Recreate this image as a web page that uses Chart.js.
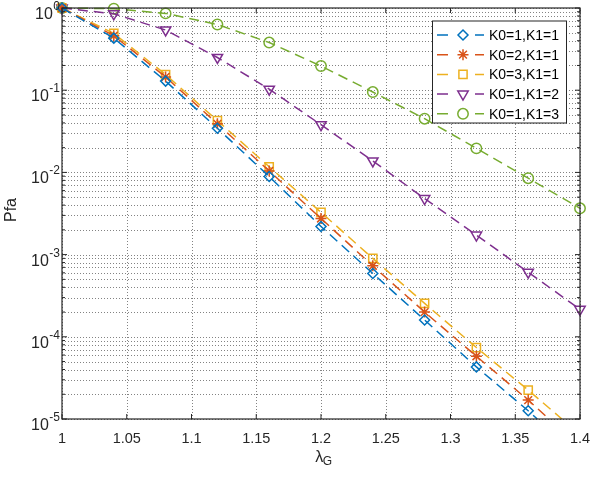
<!DOCTYPE html>
<html>
<head>
<meta charset="utf-8">
<script src="https://cdn.jsdelivr.net/npm/chart.js@4.4.1/dist/chart.umd.min.js"></script>
<style>
  html, body { margin: 0; padding: 0; background: #ffffff; }
  #wrap { width: 594px; height: 494px; position: relative; }
</style>
</head>
<body>
<div id="wrap"><canvas id="c" width="594" height="494"></canvas></div>
<script>
// ---- data ----
const xMarks = [1.00, 1.04, 1.08, 1.12, 1.16, 1.20, 1.24, 1.28, 1.32, 1.36, 1.40];
const seriesNames = ['K0=1,K1=1', 'K0=2,K1=1', 'K0=3,K1=1', 'K0=1,K1=2', 'K0=1,K1=3'];
const pfaK01K11 = [1, 0.43, 0.129, 0.0344, 0.0089, 0.0022, 5.9e-4, 1.6e-4, 4.3e-5, 1.26e-5];
const pfaK02K11 = [1, 0.46, 0.145, 0.039, 0.0104, 0.00275, 7.3e-4, 2.0e-4, 5.8e-5, 1.7e-5];
const pfaK03K11 = [1, 0.49, 0.155, 0.0426, 0.0117, 0.00327, 9.0e-4, 2.55e-4, 7.4e-5, 2.25e-5];
const pfaK01K12 = [1, 0.85, 0.54, 0.25, 0.103, 0.038, 0.0138, 0.0048, 0.00173, 6.1e-4, 2.16e-4];
const pfaK01K13 = [1, 0.98, 0.86, 0.63, 0.38, 0.197, 0.095, 0.045, 0.0196, 0.0085, 0.00366];
// where the curves leave the plot at the bottom edge (x, y)
const exitK01K11 = [1.367, 1e-5];
const exitK02K11 = [1.376, 1e-5];
const exitK03K11 = [1.386, 1e-5];
// axes
const xTickValues = [1, 1.05, 1.1, 1.15, 1.2, 1.25, 1.3, 1.35, 1.4];
const xTickLabels = ['1', '1.05', '1.1', '1.15', '1.2', '1.25', '1.3', '1.35', '1.4'];
const yTickExps = [0, -1, -2, -3, -4, -5];
const xTitleMain = 'λ';
const xTitleSub = 'G';
const yTitle = 'Pfa';

// ---- styles ----
const colors = ['#0072BD', '#D95319', '#EDB120', '#7E2F8E', '#77AC30'];
const styles = [
  { pointStyle: 'rectRot', radius: 5, rotation: 0 },
  { pointStyle: 'star', radius: 5.5, rotation: 0 },
  { pointStyle: 'rect', radius: 5.8, rotation: 0 },
  { pointStyle: 'triangle', radius: 6, rotation: 180 },
  { pointStyle: 'circle', radius: 5.2, rotation: 0 }
];
const FONT = '"Liberation Sans", Arial, Helvetica, sans-serif';

function buildPoints(vals, exit) {
  const pts = vals.map((v, i) => ({ x: xMarks[i], y: v, m: true }));
  if (exit) pts.push({ x: exit[0], y: exit[1], m: false });
  return pts;
}
const allSeries = [
  buildPoints(pfaK01K11, exitK01K11),
  buildPoints(pfaK02K11, exitK02K11),
  buildPoints(pfaK03K11, exitK03K11),
  buildPoints(pfaK01K12, null),
  buildPoints(pfaK01K13, null)
];

const datasets = allSeries.map((pts, i) => ({
  label: seriesNames[i],
  data: pts,
  showLine: true,
  borderColor: colors[i],
  backgroundColor: 'rgba(0,0,0,0)',
  borderWidth: 1.5,
  borderDash: [10, 6],
  pointStyle: styles[i].pointStyle,
  pointRotation: styles[i].rotation,
  pointRadius: (ctx) => (ctx.raw && ctx.raw.m ? styles[i].radius : 0),
  pointBorderWidth: 1.5,
  pointBorderColor: colors[i],
  pointBackgroundColor: 'rgba(0,0,0,0)',
  tension: 0,
  clip: false
}));

const axisColor = '#262626';
const gridColor = 'rgba(30,30,30,0.55)';

const gridPlugin = {
  id: 'dotGrid',
  beforeDatasetsDraw(chart) {
    const ctx = chart.ctx;
    const a = chart.chartArea;
    const xs = chart.scales.x, ys = chart.scales.y;
    ctx.save();
    ctx.strokeStyle = gridColor;
    ctx.lineWidth = 1;
    ctx.setLineDash([1, 2]);
    ctx.beginPath();
    xTickValues.forEach(v => {
      const px = Math.round(xs.getPixelForValue(v)) + 0.5;
      ctx.moveTo(px, a.bottom); ctx.lineTo(px, a.top);
    });
    yTickExps.forEach(e => {
      for (let m = 1; m <= 9; m++) {
        const v = m * Math.pow(10, e);
        if (v > 1.0000001) continue;
        const py = Math.round(ys.getPixelForValue(v)) + 0.5;
        ctx.moveTo(a.left, py); ctx.lineTo(a.right, py);
      }
    });
    ctx.stroke();
    ctx.restore();
  }
};

const decorPlugin = {
  id: 'decor',
  afterDatasetsDraw(chart) {
    const ctx = chart.ctx;
    const a = chart.chartArea;
    const xs = chart.scales.x, ys = chart.scales.y;
    ctx.save();
    // box
    ctx.strokeStyle = axisColor;
    ctx.lineWidth = 1.2;
    ctx.setLineDash([]);
    ctx.strokeRect(a.left, a.top, a.right - a.left, a.bottom - a.top);
    // x ticks (inward, bottom & top)
    ctx.lineWidth = 1;
    ctx.beginPath();
    xTickValues.forEach(v => {
      const px = xs.getPixelForValue(v);
      ctx.moveTo(px, a.bottom); ctx.lineTo(px, a.bottom - 5);
      ctx.moveTo(px, a.top); ctx.lineTo(px, a.top + 5);
    });
    // y ticks (major & minor, left & right)
    yTickExps.forEach(e => {
      for (let m = 1; m <= 9; m++) {
        const v = m * Math.pow(10, e);
        if (v > 1.0000001) continue;
        const py = ys.getPixelForValue(v);
        const len = m === 1 ? 5 : 3;
        ctx.moveTo(a.left, py); ctx.lineTo(a.left + len, py);
        ctx.moveTo(a.right, py); ctx.lineTo(a.right - len, py);
      }
    });
    ctx.stroke();

    // x tick labels
    ctx.fillStyle = axisColor;
    ctx.font = '14.5px ' + FONT;
    ctx.textAlign = 'center';
    ctx.textBaseline = 'alphabetic';
    xTickValues.forEach((v, i) => {
      ctx.fillText(xTickLabels[i], xs.getPixelForValue(v), a.bottom + 24);
    });
    // y tick labels 10^e
    yTickExps.forEach(e => {
      const py = ys.getPixelForValue(Math.pow(10, e));
      const expStr = e < 0 ? '-' + Math.abs(e) : String(e);
      ctx.font = '12px ' + FONT;
      const ew = ctx.measureText(expStr).width;
      const rightEdge = a.left - 2;
      ctx.textAlign = 'left';
      ctx.fillText(expStr, rightEdge - ew, py + 2);
      ctx.font = '16px ' + FONT;
      ctx.textAlign = 'right';
      ctx.fillText('10', rightEdge - ew - 0.5, py + 11);
    });
    // x title λ_G
    const cx = (a.left + a.right) / 2;
    ctx.font = '16px ' + FONT;
    const lw = ctx.measureText(xTitleMain).width;
    ctx.font = '12px ' + FONT;
    const gw = ctx.measureText(xTitleSub).width;
    const startX = cx + 3 - (lw + gw) / 2;
    ctx.textAlign = 'left';
    ctx.font = '16px ' + FONT;
    ctx.fillText(xTitleMain, startX, a.bottom + 43);
    ctx.font = '12px ' + FONT;
    ctx.fillText(xTitleSub, startX + lw - 0.5, a.bottom + 46);
    // y title
    ctx.save();
    ctx.translate(16, 210);
    ctx.rotate(-Math.PI / 2);
    ctx.font = '16px ' + FONT;
    ctx.textAlign = 'center';
    ctx.textBaseline = 'alphabetic';
    ctx.fillText(yTitle, 0, 0);
    ctx.restore();

    // legend
    const lx = 432.5, ly = 21, lwBox = 134, lh = 102;
    ctx.fillStyle = '#ffffff';
    ctx.fillRect(lx, ly, lwBox, lh);
    ctx.strokeStyle = axisColor;
    ctx.lineWidth = 1;
    ctx.strokeRect(lx, ly, lwBox, lh);
    chart.data.datasets.forEach((ds, i) => {
      const ry = 35 + i * 19.7;
      ctx.strokeStyle = colors[i];
      ctx.lineWidth = 1.5;
      ctx.setLineDash([]);
      ctx.beginPath();
      ctx.moveTo(437, ry); ctx.lineTo(448, ry);
      ctx.moveTo(475, ry); ctx.lineTo(484, ry);
      ctx.stroke();
      ctx.fillStyle = 'rgba(0,0,0,0)';
      Chart.helpers.drawPoint(ctx, {
        pointStyle: styles[i].pointStyle,
        radius: styles[i].radius,
        rotation: styles[i].rotation,
        borderWidth: 1.5
      }, 463, ry);
      ctx.fillStyle = '#000000';
      ctx.font = '14px ' + FONT;
      ctx.textAlign = 'left';
      ctx.textBaseline = 'middle';
      ctx.fillText(ds.label, 489, ry + 1);
    });
    ctx.restore();
  }
};

new Chart(document.getElementById('c'), {
  type: 'scatter',
  data: { datasets },
  options: {
    responsive: false,
    animation: false,
    devicePixelRatio: 1,
    layout: { padding: { left: 62, right: 14, top: 8, bottom: 75 } },
    plugins: { legend: { display: false }, tooltip: { enabled: false } },
    scales: {
      x: {
        type: 'linear',
        min: 1, max: 1.4,
        afterBuildTicks: (s) => { s.ticks = xTickValues.map(v => ({ value: v })); },
        ticks: { display: false },
        grid: { display: false, drawTicks: false },
        border: { display: false }
      },
      y: {
        type: 'logarithmic',
        min: 1e-5, max: 1,
        afterBuildTicks: (s) => {
          const t = [];
          yTickExps.slice().reverse().forEach(e => {
            for (let m = 1; m <= 9; m++) {
              const v = m * Math.pow(10, e);
              if (v <= 1.0000001) t.push({ value: v, major: m === 1 });
            }
          });
          s.ticks = t;
        },
        ticks: { display: false },
        grid: { display: false, drawTicks: false },
        border: { display: false }
      }
    }
  },
  plugins: [gridPlugin, decorPlugin]
});
</script>
</body>
</html>
